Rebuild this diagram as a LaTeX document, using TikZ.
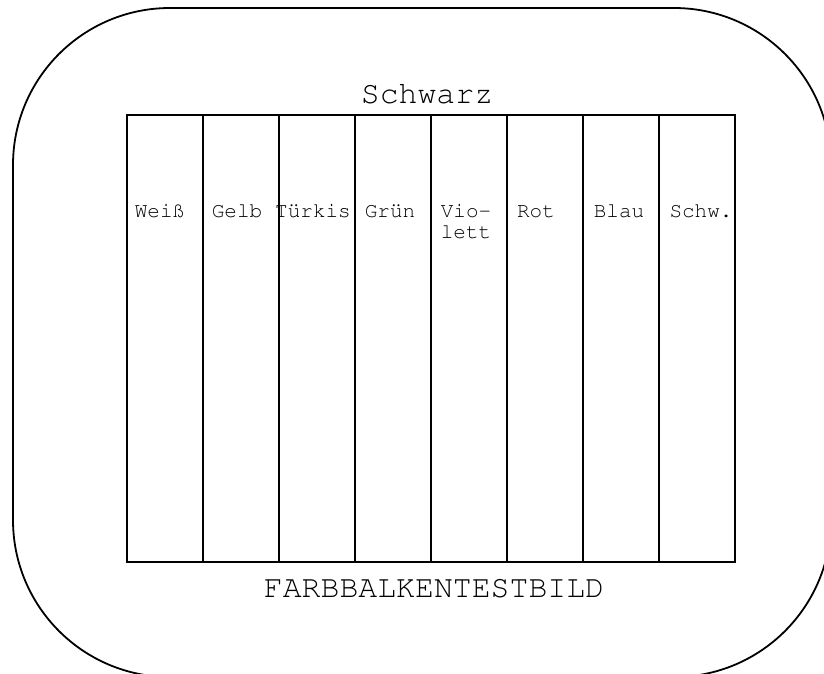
\documentclass[tikz,border=0pt]{standalone}
\usepackage[T1]{fontenc}
\usepackage{courier}
\usetikzlibrary{calc,positioning}

\begin{document}
\begin{tikzpicture}[x=1pt,y=-1pt,
    every node/.style={font=\ttfamily,inner sep=0pt,outer sep=0pt},
    bar/.style={draw,line width=1.8pt,minimum width=76pt,minimum height=447pt},
    barlabel/.style={font=\ttfamily\fontsize{21}{21}\selectfont,align=center,anchor=base},
    title/.style={font=\ttfamily\fontsize{31.5}{32}\selectfont,anchor=base}]

    \useasboundingbox (0,0) rectangle (824,674);
    \clip (0,0) rectangle (824,674);

    % Bildschirm
    \draw[line width=1.8pt,rounded corners=157pt] (13,8) rectangle (831,677);

    % Balken
    \foreach \i in {0,...,7} \node[bar] (BAR\i) at (165+76*\i,338.5) {};

    \node[barlabel] (WEISS)  at (160,217) {Wei\ss};
    \node[barlabel] (GELB)   at (237,217) {Gelb};
    \node[barlabel] (TUERK)  at (313,217) {T\"urkis};
    \node[barlabel] (GRUEN)  at (390,217) {Gr\"un};
    \node[barlabel] (VIOL)   at (466,238) {Vio-\\lett};
    \node[barlabel] (ROT)    at (536,217) {Rot};
    \node[barlabel] (BLAU)   at (619,217) {Blau};
    \node[barlabel] (SCHW)   at (701,217) {Schw.};

    \node[title] (SCHWARZ) at (427,103) {Schwarz};
    \node[title] (TESTBILD) at (434,597) {FARBBALKENTESTBILD};

\end{tikzpicture}
\end{document}
